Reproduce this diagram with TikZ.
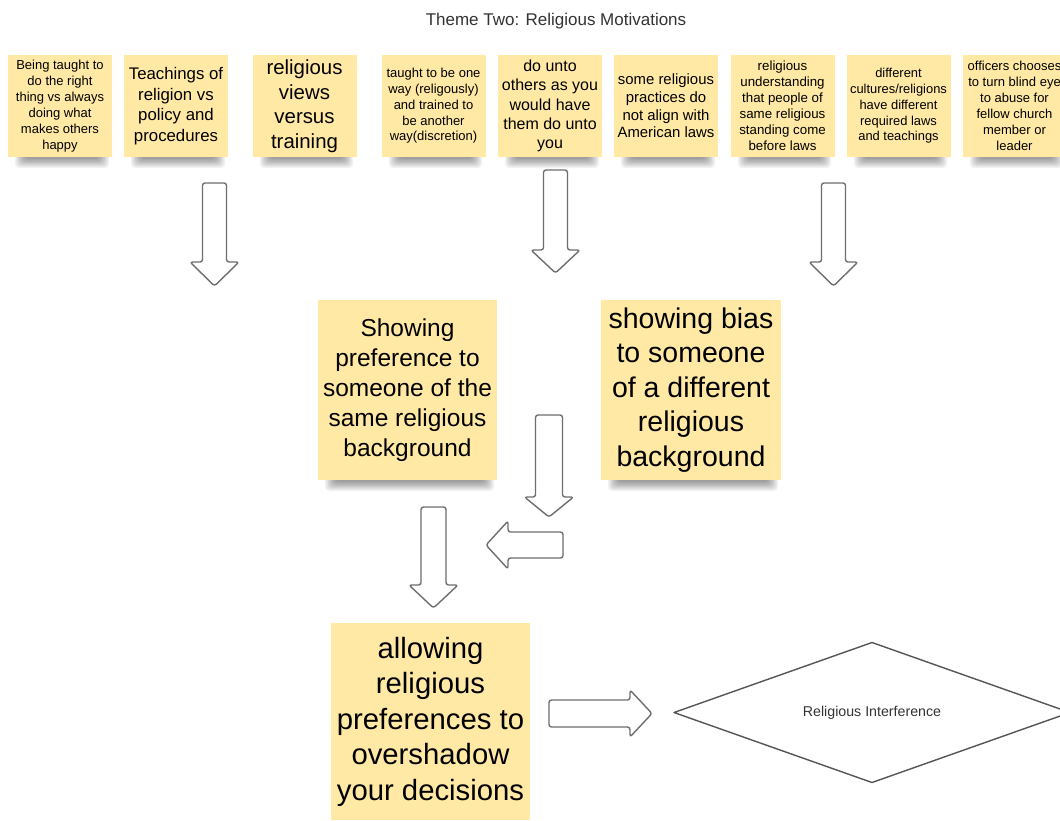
\documentclass[tikz,border=0pt]{standalone}
\usepackage{fontspec}
\setmainfont{Liberation Sans}
\definecolor{notefill}{HTML}{FFE9A5}
\definecolor{arrowline}{HTML}{6E6E6E}
\definecolor{titlegray}{HTML}{333333}
\definecolor{diagline}{HTML}{555555}
\tikzset{
  note/.style={fill=notefill, draw=none, inner sep=0pt, align=center, text=black},
  blockarrow/.style={draw=arrowline, line width=1.4pt, fill=white, rounded corners=2.5pt, line join=round},
  decision/.style={draw=diagline, line width=1.4pt, fill=white, line join=round},
}
\newcommand\noteshadow[3]{%
  \foreach \k in {0,...,7}{%
    \fill[black, opacity=0.055, rounded corners=4pt] ({#1+7+\k*1.4},{#3-4}) rectangle ({#2-3-\k*1.4},{#3+11-\k*1.3});
  }}
\newcommand\arrowdown[5]{% cx, top, headstart, tip, shaft half width
  \draw[blockarrow] ({#1-#5},#2) -- ({#1+#5},#2) -- ({#1+#5},#3) -- ({#1+24.5},#3) -- (#1,#4) -- ({#1-24.5},#3) -- ({#1-#5},#3) -- cycle;}
\begin{document}
\begin{tikzpicture}[x=1pt,y=-1pt]
\useasboundingbox (0,0) rectangle (1060,820);
\clip (0,0) rectangle (1060,820);
\fill[white] (0,0) rectangle (1060,820);

% title
\node[text=titlegray, font=\fontsize{17}{20}\selectfont] (title) at (556,21) {Theme Two: Religious Motivations};

% shadows of notes
\noteshadow{8}{112}{157}
\noteshadow{124}{228}{157}
\noteshadow{253}{356}{157}
\noteshadow{382}{485}{157}
\noteshadow{498}{602}{157}
\noteshadow{614}{718}{157}
\noteshadow{731}{834}{157}
\noteshadow{847}{950}{157}
\noteshadow{963}{1066}{157}
\noteshadow{318}{497}{480}
\noteshadow{601}{781}{480}

% top notes
\tikzset{topnote/.style={note, minimum width=104pt, minimum height=102pt}}
\node[topnote, font=\fontsize{13}{16}\selectfont] (n1) at (60,106) {Being taught to\\do the right\\thing vs always\\doing what\\makes others\\happy};
\node[topnote, font=\fontsize{16.8}{20.5}\selectfont] (n2) at (176,106) {Teachings of\\religion vs\\policy and\\procedures};
\node[topnote, font=\fontsize{20.4}{24.5}\selectfont] (n3) at (304.5,106) {religious\\views\\versus\\training};
\node[topnote, font=\fontsize{13}{15.7}\selectfont] (n4) at (433.5,106) {taught to be one\\way (religously)\\and trained to\\be another\\way(discretion)};
\node[topnote, font=\fontsize{16}{19.3}\selectfont] (n5) at (550,106) {do unto\\others as you\\would have\\them do unto\\you};
\node[topnote, font=\fontsize{14.9}{17.7}\selectfont] (n6) at (666,106) {some religious\\practices do\\not align with\\American laws};
\node[topnote, font=\fontsize{13.3}{16}\selectfont] (n7) at (782.5,106) {religious\\understanding\\that people of\\same religious\\standing come\\before laws};
\node[topnote, font=\fontsize{12.9}{15.7}\selectfont] (n8) at (898.5,106) {different\\cultures/religions\\have different\\required laws\\and teachings};
\node[topnote, font=\fontsize{13}{16}\selectfont] (n9) at (1014.5,106) {officers chooses\\to turn blind eye\\to abuse for\\fellow church\\member or\\leader};

% big notes
\node[note, minimum width=179pt, minimum height=180pt, font=\fontsize{24.5}{30}\selectfont] (b1) at (407.5,390) {Showing\\preference to\\someone of the\\same religious\\background};
\node[note, minimum width=180pt, minimum height=180pt, font=\fontsize{28.5}{34.5}\selectfont] (b2) at (691,390) {showing bias\\to someone\\of a different\\religious\\background};
\node[note, minimum width=199pt, minimum height=197pt, font=\fontsize{29.3}{35.5}\selectfont] (b3) at (430.5,721.5) {allowing\\religious\\preferences to\\overshadow\\your decisions};

% block arrows
\arrowdown{214.5}{183}{262}{286}{12}
\arrowdown{555.5}{170}{250}{273}{12}
\arrowdown{833.5}{183}{262}{286}{12}
\arrowdown{549}{415}{497}{517}{13.5}
\arrowdown{433.5}{507}{585}{608}{12.5}
% left arrow
\draw[blockarrow] (563,532) -- (563,558) -- (508,558) -- (508,569) -- (486,545) -- (508,521) -- (508,532) -- cycle;
% right arrow
\draw[blockarrow] (549,700) -- (630,700) -- (630,690) -- (652,713.5) -- (630,737) -- (630,727) -- (549,727) -- cycle;

% decision diamond
\coordinate (dl) at (674,712.5);
\coordinate (dt) at (872,642.5);
\coordinate (dr) at (1070,712.5);
\coordinate (db) at (872,782.5);
\draw[decision] (dl) -- (dt) -- (dr) -- (db) -- cycle;
\node[font=\fontsize{14.2}{16}\selectfont, text=titlegray] (ri) at (872,713) {Religious Interference};
\end{tikzpicture}
\end{document}
